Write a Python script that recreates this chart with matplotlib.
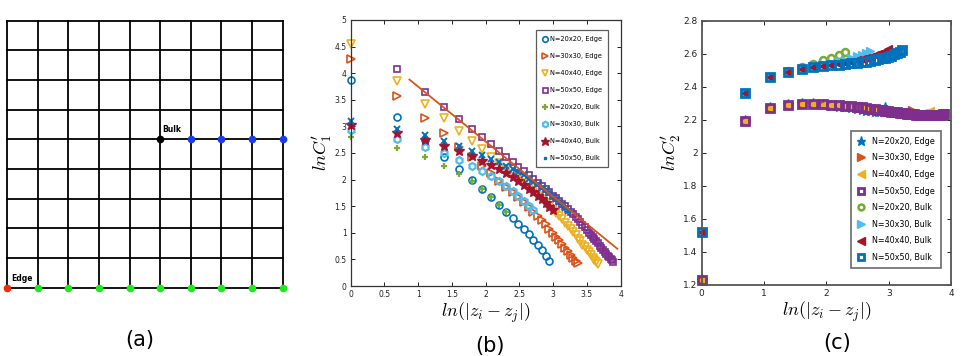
import numpy as np
import matplotlib
matplotlib.use("Agg")
import matplotlib.pyplot as plt
from matplotlib.lines import Line2D

plt.rcParams['mathtext.fontset'] = 'cm'

# ---------------- data ----------------
# panel (a): lattice
grid_n = 9
edge_origin = [(0, 0)]
edge_partners_x = [1, 2, 3, 4, 5, 6, 7, 8, 9]
edge_partners_y = [0] * 9
bulk_origin = [(5, 5)]
bulk_partners_x = [6, 7, 8, 9]
bulk_partners_y = [5, 5, 5, 5]

# separations |z_i - z_j| (lattice units)
r20e = list(range(1, 20))
r30e = list(range(1, 30))
r40e = list(range(1, 40))
r50e = list(range(2, 50))
r20b = list(range(1, 11))
r30b = list(range(1, 16))
r40b = list(range(1, 21))
r50b = list(range(1, 26))

# panel (b): ln C1'
b_e20 = [3.87, 3.17, 2.75, 2.43, 2.20, 1.99, 1.82, 1.67, 1.53, 1.40, 1.28, 1.17, 1.07,
         0.97, 0.87, 0.77, 0.67, 0.57, 0.47]
b_e30 = [4.27, 3.57, 3.15, 2.87, 2.62, 2.43, 2.25, 2.12, 1.98, 1.87, 1.77, 1.67, 1.58,
         1.49, 1.40, 1.32, 1.24, 1.16, 1.08, 1.00, 0.93, 0.86, 0.79, 0.72, 0.65, 0.58,
         0.52, 0.47, 0.43]
b_e40 = [4.55, 3.85, 3.43, 3.15, 2.92, 2.73, 2.57, 2.43, 2.31, 2.20, 2.10, 2.01, 1.93,
         1.85, 1.77, 1.70, 1.63, 1.56, 1.50, 1.43, 1.37, 1.31, 1.25, 1.19, 1.13, 1.07,
         1.01, 0.95, 0.89, 0.84, 0.78, 0.73, 0.68, 0.63, 0.58, 0.53, 0.49, 0.45, 0.41]
b_e50 = [4.07, 3.65, 3.37, 3.14, 2.95, 2.80, 2.66, 2.54, 2.43, 2.33, 2.24, 2.16, 2.08,
         2.01, 1.94, 1.88, 1.82, 1.76, 1.70, 1.65, 1.60, 1.55, 1.50, 1.45, 1.40, 1.35,
         1.30, 1.25, 1.20, 1.15, 1.10, 1.05, 1.00, 0.96, 0.92, 0.88, 0.84, 0.80, 0.76,
         0.72, 0.68, 0.64, 0.60, 0.57, 0.54, 0.51, 0.48, 0.46]
b_b20 = [2.80, 2.60, 2.42, 2.25, 2.11, 1.97, 1.82, 1.67, 1.53, 1.40]
b_b30 = [2.93, 2.76, 2.62, 2.50, 2.37, 2.26, 2.16, 2.06, 1.97, 1.88, 1.78, 1.69, 1.60,
         1.51, 1.42]
b_b40 = [3.02, 2.88, 2.75, 2.64, 2.53, 2.44, 2.35, 2.27, 2.19, 2.12, 2.04, 1.97, 1.90,
         1.83, 1.77, 1.70, 1.63, 1.56, 1.49, 1.42]
b_b50 = [3.10, 2.96, 2.83, 2.73, 2.63, 2.54, 2.46, 2.39, 2.33, 2.26, 2.20, 2.14, 2.08,
         2.02, 1.96, 1.91, 1.85, 1.80, 1.74, 1.69, 1.63, 1.58, 1.52, 1.47, 1.41]
fit_x = [0.87, 3.95]
fit_y = [3.88, 0.70]

# panel (c): ln C2'
c_e20 = [1.23, 2.19, 2.27, 2.29, 2.295, 2.293, 2.29, 2.285, 2.28, 2.275, 2.27, 2.265,
         2.26, 2.256, 2.252, 2.25, 2.25, 2.256, 2.27]
c_e30 = [1.23, 2.19, 2.27, 2.29, 2.295, 2.294, 2.292, 2.289, 2.285, 2.281, 2.277, 2.273,
         2.269, 2.265, 2.261, 2.258, 2.255, 2.252, 2.249, 2.247, 2.245, 2.243, 2.242,
         2.241, 2.241, 2.242, 2.245, 2.25, 2.26]
c_e40 = [1.23, 2.19, 2.27, 2.29, 2.295, 2.294, 2.292, 2.29, 2.287, 2.283, 2.279, 2.275,
         2.271, 2.267, 2.263, 2.26, 2.257, 2.254, 2.251, 2.248, 2.246, 2.244, 2.242,
         2.24, 2.238, 2.237, 2.236, 2.235, 2.234, 2.234, 2.234, 2.235, 2.236, 2.237,
         2.239, 2.241, 2.244, 2.247, 2.252]
c_e50 = [2.19, 2.27, 2.29, 2.295, 2.294, 2.293, 2.291, 2.288, 2.285, 2.282, 2.278,
         2.275, 2.272, 2.268, 2.265, 2.262, 2.259, 2.256, 2.253, 2.25, 2.248, 2.246,
         2.244, 2.242, 2.24, 2.238, 2.236, 2.235, 2.234, 2.232, 2.231, 2.23, 2.229,
         2.228, 2.228, 2.227, 2.227, 2.227, 2.227, 2.227, 2.228, 2.228, 2.229, 2.23,
         2.231, 2.232, 2.233, 2.235]
c_e50_first = 1.23
c_b20 = [1.52, 2.36, 2.46, 2.495, 2.52, 2.54, 2.56, 2.575, 2.59, 2.61]
c_b30 = [1.52, 2.36, 2.46, 2.49, 2.51, 2.525, 2.535, 2.545, 2.555, 2.565, 2.575, 2.585,
         2.595, 2.605, 2.615]
c_b40 = [1.52, 2.36, 2.46, 2.49, 2.51, 2.52, 2.527, 2.533, 2.54, 2.546, 2.553, 2.56,
         2.567, 2.574, 2.582, 2.59, 2.598, 2.607, 2.617, 2.628]
c_b50 = [1.52, 2.36, 2.46, 2.49, 2.51, 2.518, 2.524, 2.529, 2.533, 2.537, 2.541, 2.545,
         2.549, 2.553, 2.557, 2.562, 2.567, 2.572, 2.577, 2.583, 2.589, 2.596, 2.603,
         2.611, 2.62]

labels = ['N=20x20, Edge', 'N=30x30, Edge', 'N=40x40, Edge', 'N=50x50, Edge',
          'N=20x20, Bulk', 'N=30x30, Bulk', 'N=40x40, Bulk', 'N=50x50, Bulk']

C_BLUE = '#0072BD'; C_ORANGE = '#D95319'; C_YELLOW = '#EDB120'; C_PURPLE = '#7E2F8E'
C_GREEN = '#77AC30'; C_LBLUE = '#4DBEEE'; C_RED = '#A2142F'

# ---------------- figure ----------------
W, H = 970, 356
fig = plt.figure(figsize=(W / 100, H / 100), dpi=100)


def px_axes(x0, y0, x1, y1):
    return fig.add_axes([x0 / W, 1 - y1 / H, (x1 - x0) / W, (y1 - y0) / H])


# ---- panel (a)
axa = px_axes(7.3, 20.7, 282.7, 287.7)
axa.set_xlim(0, grid_n)
axa.set_ylim(0, grid_n)
axa.axis('off')
for i in range(grid_n + 1):
    axa.plot([i, i], [0, grid_n], color='black', lw=1.3, clip_on=False, zorder=1)
    axa.plot([0, grid_n], [i, i], color='black', lw=1.3, clip_on=False, zorder=1)
axa.plot(edge_partners_x, edge_partners_y, 'o', color='#1EE81E', ms=4.5, clip_on=False, zorder=3)
axa.plot([p[0] for p in edge_origin], [p[1] for p in edge_origin], 'o', color='#F02A0A',
         ms=4.5, clip_on=False, zorder=3)
axa.plot(bulk_partners_x, bulk_partners_y, 'o', color='#1A3CF0', ms=4.5, clip_on=False, zorder=3)
axa.plot([p[0] for p in bulk_origin], [p[1] for p in bulk_origin], 'o', color='black',
         ms=4.5, clip_on=False, zorder=3)
axa.text(0.14, 0.17, 'Edge', fontsize=5.5, fontweight='bold', ha='left', va='bottom')
axa.text(5.08, 5.17, 'Bulk', fontsize=5.5, fontweight='bold', ha='left', va='bottom')


def style_axes(ax, fs):
    for s in ax.spines.values():
        s.set_color('#333333')
        s.set_linewidth(0.9)
    ax.tick_params(direction='in', top=True, right=True, length=3, width=0.7,
                   labelsize=fs, colors='#222222', pad=3)


# ---- panel (b)
axb = px_axes(350.7, 20.0, 620.7, 286.0)
lx = np.log
mew = 1.2
kw = dict(clip_on=False, ls='none')
axb.plot(lx(r20e), b_e20, marker='o', mfc='none', mec=C_BLUE, mew=mew, ms=5, label=labels[0], **kw)
axb.plot(lx(r30e), b_e30, marker='>', mfc='none', mec=C_ORANGE, mew=mew, ms=5.5, label=labels[1], **kw)
axb.plot(lx(r40e), b_e40, marker='v', mfc='none', mec=C_YELLOW, mew=mew, ms=5.5, label=labels[2], **kw)
axb.plot(lx(r50e), b_e50, marker='s', mfc='none', mec=C_PURPLE, mew=mew, ms=4.5, label=labels[3], **kw)
axb.plot(lx(r20b), b_b20, marker='+', color=C_GREEN, mew=1.6, ms=5, label=labels[4], **kw)
axb.plot(lx(r30b), b_b30, marker='h', mfc='none', mec=C_LBLUE, mew=1.6, ms=5, label=labels[5], **kw)
axb.plot(lx(r40b), b_b40, marker='*', color=C_RED, ms=8, label=labels[6], **kw)
axb.plot(lx(r50b), b_b50, marker='x', color=C_BLUE, mew=1.4, ms=4.5, label=labels[7], **kw)
axb.plot(fit_x, fit_y, '-', color=C_ORANGE, lw=1.3)
axb.set_xlim(0, 4)
axb.set_ylim(0, 5)
axb.set_xticks(np.arange(0, 4.01, 0.5))
axb.set_xticklabels(['0', '0.5', '1', '1.5', '2', '2.5', '3', '3.5', '4'])
axb.set_yticks(np.arange(0, 5.01, 0.5))
axb.set_yticklabels(['0', '0.5', '1', '1.5', '2', '2.5', '3', '3.5', '4', '4.5', '5'])
style_axes(axb, 5.5)
axb.set_xlabel(r"$ln(|z_i - z_j|)$", fontsize=13, labelpad=1)
axb.set_ylabel(r"$lnC_1'$", fontsize=13, labelpad=0)
hb, lb = axb.get_legend_handles_labels()
hb[7] = Line2D([], [], ls='none', marker='s', color=C_BLUE, ms=2.5)
legb = axb.legend(hb, lb, loc='upper right', bbox_to_anchor=(0.967, 0.975), fontsize=4.8,
                  frameon=True, fancybox=False, edgecolor='#333333', borderpad=0.9,
                  labelspacing=1.65, handlelength=0.7, handletextpad=0.5, markerscale=0.8)
legb.get_frame().set_linewidth(0.9)

# ---- panel (c)
axc = px_axes(701.7, 20.7, 951.0, 285.0)
ms_c = 6
axc.plot(lx(r20e), c_e20, marker='*', color=C_BLUE, ms=8, label=labels[0], **kw)
axc.plot(lx(r30e), c_e30, marker='>', color=C_ORANGE, ms=ms_c, label=labels[1], **kw)
axc.plot(lx(r40e), c_e40, marker='<', color=C_YELLOW, ms=ms_c, label=labels[2], **kw)
axc.plot(np.concatenate([[0.0], lx(r50e)]), [c_e50_first] + c_e50, marker='s', mfc='none',
         mec=C_PURPLE, mew=2.0, ms=5.5, label=labels[3], **kw)
axc.plot(lx(r20b), c_b20, marker='o', mfc='none', mec=C_GREEN, mew=1.8, ms=5, label=labels[4], **kw)
axc.plot(lx(r30b), c_b30, marker='>', color=C_LBLUE, ms=ms_c, label=labels[5], **kw)
axc.plot(lx(r40b), c_b40, marker='<', color=C_RED, ms=ms_c, label=labels[6], **kw)
axc.plot(lx(r50b), c_b50, marker='s', mfc='none', mec=C_BLUE, mew=2.0, ms=5.5, label=labels[7], **kw)
axc.set_xlim(0, 4)
axc.set_ylim(1.2, 2.8)
axc.set_xticks([0, 1, 2, 3, 4])
axc.set_yticks(np.arange(1.2, 2.81, 0.2))
axc.set_yticklabels(['1.2', '1.4', '1.6', '1.8', '2', '2.2', '2.4', '2.6', '2.8'])
style_axes(axc, 6.5)
for s in axc.spines.values():
    s.set_color('#555555')
    s.set_linewidth(1.3)
axc.set_xlabel(r"$ln(|z_i - z_j|)$", fontsize=13, labelpad=1)
axc.set_ylabel(r"$lnC_2'$", fontsize=13, labelpad=0)
legc = axc.legend(loc='lower right', bbox_to_anchor=(0.975, 0.05), fontsize=5.8,
                  frameon=True, fancybox=False, edgecolor='#444444', borderpad=0.7,
                  labelspacing=0.95, handlelength=1.0, handletextpad=0.9, markerscale=0.85)
legc.get_frame().set_linewidth(1.2)

# panel letters
fig.text(140 / W, 1 - 340 / H, '(a)', fontsize=15, ha='center', va='center')
fig.text(490 / W, 1 - 346 / H, '(b)', fontsize=15, ha='center', va='center')
fig.text(837 / W, 1 - 343 / H, '(c)', fontsize=15, ha='center', va='center')

fig.savefig('out.png', dpi=100)
